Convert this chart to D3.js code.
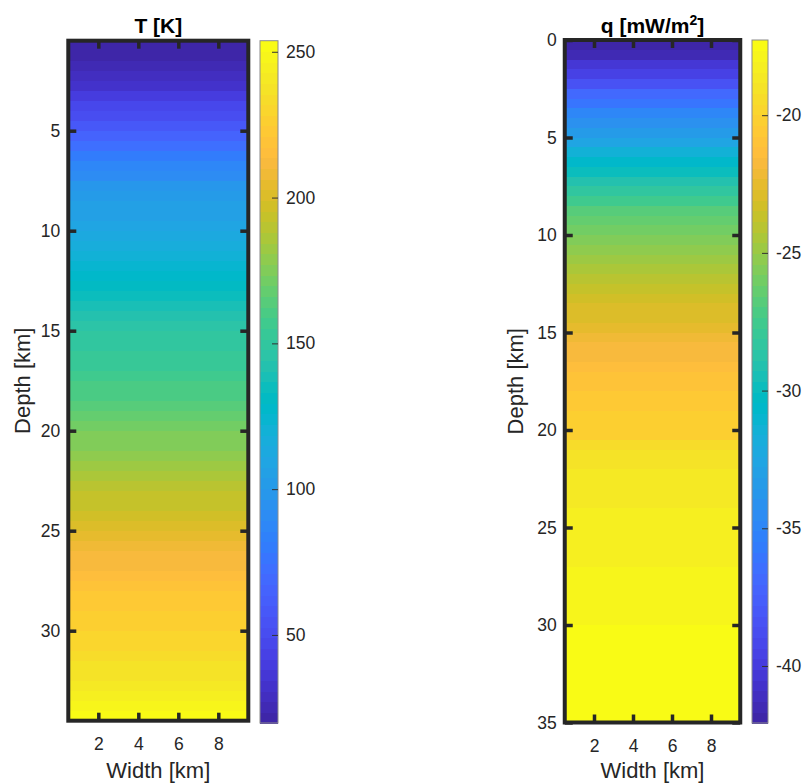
<!DOCTYPE html>
<html>
<head>
<meta charset="utf-8">
<script src="https://cdn.jsdelivr.net/npm/d3@7"></script>
<style>
  body { margin: 0; background: #fff; }
  svg { display: block; font-family: "Liberation Sans", Arial, Helvetica, sans-serif; }
  .tick text { fill: #262626; }
</style>
</head>
<body>
<div id="chart"></div>
<script>
// temperature profile, one value per 0.5 km row (row centres 0.75 ... 34.25 km)
const tempValues = [
  19.8, 23, 26, 29, 33, 41, 46, 52, 59, 66,
  73, 80, 86, 91, 99, 101, 104, 107, 110, 113,
  117, 121, 125, 129, 133, 136, 139, 142, 145, 148,
  150, 152, 154, 156, 159, 162, 165, 168, 171, 174,
  177, 180, 183, 186, 189, 192, 195, 198, 201, 204,
  207, 210, 213, 216, 219, 221, 223, 225, 227, 229,
  231, 233, 236, 238, 241, 244, 248, 253.8
];
// heat flow profile, one value per 0.5 km row (row centres 0.25 ... 34.75 km)
const fluxValues = [
  -42.07, -41.3, -40.4, -39.4, -38.2, -37.0, -35.9, -35.0, -34.2, -33.4,
  -32.5, -31.5, -30.6, -29.8, -29.0, -28.2, -27.5, -26.9, -26.4, -26.0,
  -25.5, -25.1, -24.7, -24.3, -23.9, -23.5, -23.1, -22.9, -22.7, -22.4,
  -22.1, -21.8, -21.6, -21.4, -21.1, -20.8, -20.6, -20.45, -20.3, -20.15,
  -20.0, -19.5, -19.2, -19.0, -18.8, -18.7, -18.6, -18.5, -18.4, -18.3,
  -18.2, -18.15, -18.1, -18.05, -18.0, -18.0, -17.95, -17.95, -17.9, -17.9,
  -17.4, -17.38, -17.36, -17.34, -17.32, -17.31, -17.3, -17.29, -17.28, -17.27
];
const widthTicks = [2, 4, 6, 8];
const tempDepthTicks = [5, 10, 15, 20, 25, 30];
const fluxDepthTicks = [0, 5, 10, 15, 20, 25, 30, 35];
const tempBarTicks = [50, 100, 150, 200, 250];
const fluxBarTicks = [-40, -35, -30, -25, -20];

// parula, 64 levels
const parula = [
  [0.2422,0.1504,0.6603],[0.2504,0.1650,0.7076],[0.2578,0.1818,0.7511],[0.2647,0.1978,0.7952],
  [0.2706,0.2147,0.8364],[0.2751,0.2342,0.8710],[0.2783,0.2559,0.8991],[0.2803,0.2782,0.9221],
  [0.2813,0.3006,0.9414],[0.2810,0.3228,0.9579],[0.2795,0.3447,0.9717],[0.2760,0.3667,0.9829],
  [0.2699,0.3892,0.9906],[0.2602,0.4123,0.9952],[0.2440,0.4358,0.9988],[0.2206,0.4603,0.9973],
  [0.1963,0.4847,0.9892],[0.1834,0.5074,0.9798],[0.1786,0.5289,0.9682],[0.1764,0.5499,0.9520],
  [0.1687,0.5703,0.9359],[0.1540,0.5902,0.9218],[0.1460,0.6091,0.9079],[0.1380,0.6276,0.8973],
  [0.1248,0.6459,0.8883],[0.1113,0.6635,0.8763],[0.0952,0.6798,0.8598],[0.0689,0.6948,0.8394],
  [0.0297,0.7082,0.8163],[0.0036,0.7203,0.7917],[0.0067,0.7312,0.7660],[0.0433,0.7411,0.7394],
  [0.0964,0.7500,0.7120],[0.1408,0.7584,0.6842],[0.1717,0.7670,0.6554],[0.1938,0.7758,0.6251],
  [0.2161,0.7843,0.5923],[0.2470,0.7918,0.5567],[0.2906,0.7973,0.5188],[0.3406,0.8008,0.4789],
  [0.3909,0.8029,0.4354],[0.4456,0.8024,0.3909],[0.5044,0.7993,0.3480],[0.5616,0.7942,0.3045],
  [0.6174,0.7876,0.2612],[0.6720,0.7793,0.2227],[0.7242,0.7698,0.1910],[0.7738,0.7598,0.1646],
  [0.8203,0.7498,0.1535],[0.8634,0.7406,0.1596],[0.9035,0.7330,0.1774],[0.9393,0.7288,0.2100],
  [0.9728,0.7298,0.2394],[0.9956,0.7434,0.2371],[0.9970,0.7659,0.2199],[0.9952,0.7893,0.2028],
  [0.9892,0.8136,0.1885],[0.9786,0.8386,0.1766],[0.9676,0.8639,0.1643],[0.9610,0.8890,0.1537],
  [0.9597,0.9135,0.1423],[0.9628,0.9373,0.1265],[0.9691,0.9606,0.1064],[0.9769,0.9839,0.0805]
].map(c => d3.rgb(c[0] * 255, c[1] * 255, c[2] * 255).formatHex());

const ink = "#262626";
// plain hyphen for negatives, like the original
const fmt = d => String(d);

var svg = d3.select("#chart").append("svg")
  .attr("width", 806)
  .attr("height", 783);

function panel(opts) {
  var x = d3.scaleLinear().domain([0.5, 9.5]).range([opts.left, opts.right]);
  var y = d3.scaleLinear().domain(opts.depthDomain).range([opts.top, opts.bottom]);
  var color = d3.scaleQuantize().domain(d3.extent(opts.values)).range(parula);

  var g = svg.append("g");

  // image rows
  g.append("g")
    .selectAll("rect")
    .data(opts.values)
    .enter()
    .append("rect")
    .attr("x", x(0.5))
    .attr("width", x(9.5) - x(0.5))
    .attr("y", (d, i) => y(opts.firstDepth + i * opts.step - opts.step / 2))
    .attr("height", (d, i) => y(opts.firstDepth + i * opts.step + opts.step / 2) - y(opts.firstDepth + i * opts.step - opts.step / 2) + 0.5)
    .attr("fill", d => color(d))
    .attr("shape-rendering", "crispEdges");

  // axes, ticks pointing inward on all four sides
  function styleAxis(sel) {
    sel.select(".domain").remove();
    sel.selectAll(".tick line").attr("stroke", ink).attr("stroke-width", 3.5);
    sel.selectAll(".tick text").style("font-size", "17.5px");
  }
  g.append("g")
    .attr("transform", "translate(" + opts.left + ",0)")
    .call(d3.axisLeft(y).tickValues(opts.depthTicks).tickSize(-8).tickPadding(8).tickFormat(fmt))
    .call(styleAxis);
  g.append("g")
    .attr("transform", "translate(" + opts.right + ",0)")
    .call(d3.axisRight(y).tickValues(opts.depthTicks).tickSize(-8).tickFormat(""))
    .call(styleAxis);
  g.append("g")
    .attr("transform", "translate(0," + opts.bottom + ")")
    .call(d3.axisBottom(x).tickValues(widthTicks).tickSize(-8).tickPadding(17).tickFormat(fmt))
    .call(styleAxis);
  g.append("g")
    .attr("transform", "translate(0," + opts.top + ")")
    .call(d3.axisTop(x).tickValues(widthTicks).tickSize(-8).tickFormat(""))
    .call(styleAxis);

  g.append("rect")
    .attr("x", opts.left)
    .attr("y", opts.top)
    .attr("width", opts.right - opts.left)
    .attr("height", opts.bottom - opts.top)
    .attr("fill", "none")
    .attr("stroke", ink)
    .attr("stroke-width", 4);

  // labels
  var cx = (opts.left + opts.right) / 2;
  g.append("text")
    .attr("x", cx)
    .attr("y", 778)
    .attr("text-anchor", "middle")
    .style("font-size", "22px")
    .attr("fill", ink)
    .text("Width [km]");
  g.append("text")
    .attr("transform", "translate(" + opts.ylabelX + "," + (opts.top + opts.bottom) / 2 + ") rotate(-90)")
    .attr("text-anchor", "middle")
    .style("font-size", "22px")
    .attr("fill", ink)
    .text("Depth [km]");
  var title = g.append("text")
    .attr("x", cx)
    .attr("y", 33)
    .attr("text-anchor", "middle")
    .style("font-size", "21px")
    .style("font-weight", "bold")
    .attr("fill", "#000");
  title.append("tspan").text(opts.title);
  if (opts.titleSup) {
    title.append("tspan").attr("dy", -8).style("font-size", "14px").text(opts.titleSup);
    title.append("tspan").attr("dy", 8).text("]");
  }

  // colorbar
  var cb = d3.scaleLinear().domain(d3.extent(opts.values)).range([opts.cbBottom, opts.cbTop]);
  var bands = color.range().map(c => color.invertExtent(c));
  g.append("g")
    .selectAll("rect")
    .data(bands)
    .enter()
    .append("rect")
    .attr("x", opts.cbLeft)
    .attr("width", opts.cbRight - opts.cbLeft)
    .attr("y", d => cb(d[1]))
    .attr("height", d => cb(d[0]) - cb(d[1]) + 0.5)
    .attr("fill", d => color((d[0] + d[1]) / 2))
    .attr("shape-rendering", "crispEdges");
  g.append("rect")
    .attr("x", opts.cbLeft)
    .attr("y", opts.cbTop)
    .attr("width", opts.cbRight - opts.cbLeft)
    .attr("height", opts.cbBottom - opts.cbTop)
    .attr("fill", "none")
    .attr("stroke", "#8c8c8c")
    .attr("stroke-width", 1);
  var cbAxis = g.append("g")
    .attr("transform", "translate(" + opts.cbRight + ",0)")
    .call(d3.axisRight(cb).tickValues(opts.barTicks).tickSize(-6).tickPadding(8).tickFormat(fmt));
  cbAxis.select(".domain").remove();
  cbAxis.selectAll(".tick line").attr("stroke", "#333").attr("stroke-width", 1);
  cbAxis.selectAll(".tick text").style("font-size", "17.5px");
}

panel({
  values: tempValues, firstDepth: 0.75, step: 0.5,
  depthDomain: [0.5, 34.5], depthTicks: tempDepthTicks,
  left: 68.3, right: 248.3, top: 40.7, bottom: 720.7,
  cbLeft: 260, cbRight: 278, cbTop: 40.7, cbBottom: 723,
  barTicks: tempBarTicks, ylabelX: 30, title: "T [K]"
});

panel({
  values: fluxValues, firstDepth: 0.25, step: 0.5,
  depthDomain: [0, 35], depthTicks: fluxDepthTicks,
  left: 564.75, right: 740.25, top: 40, bottom: 722.5,
  cbLeft: 752, cbRight: 768, cbTop: 40, cbBottom: 723,
  barTicks: fluxBarTicks, ylabelX: 523, title: "q [mW/m", titleSup: "2"
});
</script>
</body>
</html>
